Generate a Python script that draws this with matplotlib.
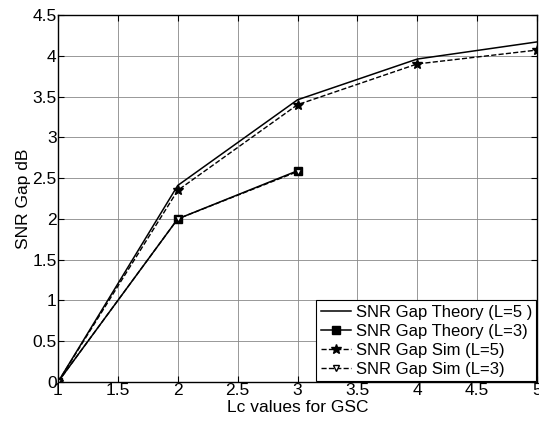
import matplotlib
matplotlib.use("Agg")
import matplotlib.pyplot as plt

# Lc values and SNR gap (dB)
lc = [1, 2, 3, 4, 5]
theory_l5 = [0, 2.41, 3.46, 3.96, 4.17]
sim_l5 = [0, 2.35, 3.40, 3.90, 4.07]
lc_l3 = [1, 2, 3]
theory_l3 = [0, 2.0, 2.59]
sim_l3 = [0, 2.0, 2.58]

plt.rcParams["font.family"] = ["Liberation Sans", "DejaVu Sans"]
plt.rcParams["font.size"] = 12.5

fig = plt.figure(figsize=(5.39, 4.21), dpi=100)
ax = fig.add_axes([58 / 539, 1 - 382 / 421, 479 / 539, 367 / 421])

ax.plot(lc, theory_l5, color="black", lw=1.1, label="SNR Gap Theory (L=5 )")
ax.plot(lc_l3, theory_l3, color="black", lw=1.1, marker="s", ms=6,
        label="SNR Gap Theory (L=3)")
ax.plot(lc, sim_l5, color="black", lw=1.0, ls="--", marker="*", ms=7,
        label="SNR Gap Sim (L=5)")
ax.plot(lc_l3, sim_l3, color="black", lw=1.0, ls="--", marker="v", ms=5,
        mfc="white", mec="black", label="SNR Gap Sim (L=3)")

ax.set_xlim(1, 5)
ax.set_ylim(0, 4.5)
ax.set_xticks([1, 1.5, 2, 2.5, 3, 3.5, 4, 4.5, 5])
ax.set_xticklabels(["1", "1.5", "2", "2.5", "3", "3.5", "4", "4.5", "5"])
ax.set_yticks([0, 0.5, 1, 1.5, 2, 2.5, 3, 3.5, 4, 4.5])
ax.set_yticklabels(["0", "0.5", "1", "1.5", "2", "2.5", "3", "3.5", "4", "4.5"])
ax.grid(True, color="#888888", lw=0.6)
ax.tick_params(direction="in", top=True, right=True, length=4, pad=1)
for s in ax.spines.values():
    s.set_linewidth(1.0)

ax.set_xlabel("Lc values for GSC", labelpad=1)
ax.set_ylabel("SNR Gap dB", labelpad=1)

leg = ax.legend(loc="lower right", fancybox=False, framealpha=1,
                edgecolor="black", borderaxespad=0.05, handlelength=1.8,
                handletextpad=0.3, labelspacing=0.25, borderpad=0.25,
                fontsize=12)
leg.get_frame().set_linewidth(0.8)

fig.savefig("out.png", dpi=100)
